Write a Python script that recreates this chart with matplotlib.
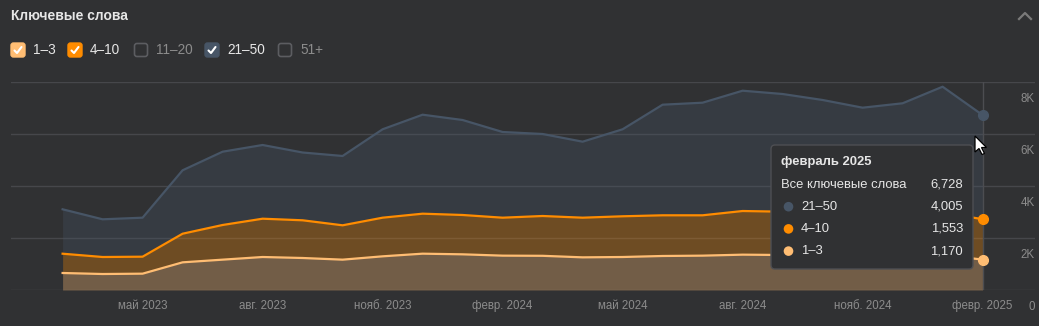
import numpy as np
import matplotlib
matplotlib.use("Agg")
import matplotlib.pyplot as plt
from matplotlib.patches import FancyBboxPatch, Polygon, Circle

plt.rcParams['font.family'] = ['Liberation Sans', 'DejaVu Sans']

# monthly keyword counts, march 2023 .. february 2025
months = ['март 2023', 'апр. 2023', 'май 2023', 'июнь 2023', 'июль 2023', 'авг. 2023',
          'сент. 2023', 'окт. 2023', 'нояб. 2023', 'дек. 2023', 'янв. 2024', 'февр. 2024',
          'март 2024', 'апр. 2024', 'май 2024', 'июнь 2024', 'июль 2024', 'авг. 2024',
          'сент. 2024', 'окт. 2024', 'нояб. 2024', 'дек. 2024', 'янв. 2025', 'февр. 2025']
pos_1_3 = [654, 615, 628, 1064, 1167, 1269, 1231, 1167, 1295, 1397, 1372, 1321,
           1315, 1256, 1269, 1308, 1321, 1359, 1346, 1340, 1330, 1335, 1345, 1170]
pos_4_10 = [742, 654, 653, 1101, 1333, 1473, 1450, 1321, 1486, 1538, 1513, 1460,
            1531, 1525, 1566, 1565, 1552, 1679, 1666, 1620, 1590, 1605, 1635, 1553]
pos_21_50 = [1708, 1450, 1500, 2439, 2819, 2835, 2607, 2666, 3400, 3807, 3653, 3296,
             3154, 2923, 3346, 4254, 4331, 4627, 4526, 4348, 4092, 4241, 4839, 4005]
tick_idx = [2, 5, 8, 11, 14, 17, 20, 23]
y_ticks = [0, 2000, 4000, 6000, 8000]
y_tick_labels = ['0', '2K', '4K', '6K', '8K']
legend_items = ['1–3', '4–10', '11–20', '21–50', '51+']
legend_on = [True, True, False, True, False]
hover_title = 'февраль 2025'

W, H = 1039, 326
bg = '#303133'
grid_c = '#46474b'
c13 = '#ffbd73'
c410 = '#ff8c00'
c2150 = '#475566'
txt = '#e6e6e6'
muted = '#8c8c8c'

fig = plt.figure(figsize=(W / 100, H / 100), dpi=100, facecolor=bg)
ax = fig.add_axes([11 / W, 1 - 290 / H, (1035 - 11) / W, (290 - 82) / H])
ax.set_facecolor(bg)

x = np.arange(len(months))
s1 = np.array(pos_1_3)
s2 = s1 + np.array(pos_4_10)
s3 = s2 + np.array(pos_21_50)

for v in y_ticks:
    ax.axhline(v, color=grid_c, lw=1, zorder=0)

ax.fill_between(x, 0, s1, color=c13, alpha=0.32, lw=0, zorder=1)
ax.fill_between(x, s1, s2, color=c410, alpha=0.3, lw=0, zorder=1)
ax.fill_between(x, s2, s3, color=c2150, alpha=0.3, lw=0, zorder=1)
ax.plot(x, s3, color=c2150, lw=1.6, zorder=3)
ax.plot(x, s2, color=c410, lw=1.6, zorder=3)
ax.plot(x, s1, color=c13, lw=1.6, zorder=3)

# hovered month
hi = len(x) - 1
ax.axvline(hi, color='#4c4d51', lw=1, zorder=2)
for s, c in [(s3, c2150), (s2, c410), (s1, c13)]:
    ax.plot(hi, s[hi], 'o', ms=7, color=c, mec=c, zorder=4)

ax.set_xlim(-1.29, 24.31)
ax.set_ylim(0, 8000)
for sp in ax.spines.values():
    sp.set_visible(False)
ax.set_yticks([])
ax.set_xticks(tick_idx)
ax.set_xticklabels([months[i] for i in tick_idx], fontsize=8.3, color=muted)
for lab in ax.get_xticklabels():
    lab.set_va('baseline')
ax.tick_params(axis='x', length=0, pad=13.8)

for v, lab in zip(y_ticks, y_tick_labels):
    ax.annotate(lab, xy=(1, v), xycoords=('axes fraction', 'data'),
                xytext=(0, -14.6), textcoords='offset points',
                ha='right', va='baseline', fontsize=8.3, color=muted)

# overlay in pixel units for header, legend and tooltip
ov = fig.add_axes([0, 0, 1, 1])
ov.set_xlim(0, W)
ov.set_ylim(H, 0)
ov.axis('off')
ov.patch.set_alpha(0)

ov.text(11, 16, 'Ключевые слова', fontsize=10, fontweight='bold', color=txt,
        ha='left', va='center')
ov.plot([1019, 1025, 1031], [19, 13, 19], color='#7a7a7a', lw=1.6)

box_x = [11, 68, 134, 205, 278]
box_fill = [c13, c410, None, c2150, None]
for bx, lab, on, fc in zip(box_x, legend_items, legend_on, box_fill):
    if on:
        ov.add_patch(FancyBboxPatch((bx, 43), 14, 14, boxstyle='round,pad=0,rounding_size=2.5',
                                    fc=fc, ec=fc, lw=1))
        ov.plot([bx + 3.5, bx + 6, bx + 10.5], [50.5, 53, 47], color='white', lw=1.5,
                solid_capstyle='round', solid_joinstyle='round')
    else:
        ov.add_patch(FancyBboxPatch((bx + 0.5, 43.5), 13, 13, boxstyle='round,pad=0,rounding_size=2.5',
                                    fc=bg, ec='#5c5d61', lw=1.2))
    ov.text(bx + 22, 50.5, lab, fontsize=9.8, color=txt if on else muted,
            ha='left', va='center')

# tooltip
ov.add_patch(FancyBboxPatch((771, 145), 202, 124, boxstyle='round,pad=0,rounding_size=4',
                            fc=bg, ec='#4e4f53', lw=1, zorder=5))
ov.text(781, 162, hover_title, fontsize=9.4, fontweight='bold', color=txt,
        ha='left', va='center', zorder=6)
rows = [('Все ключевые слова', int(s3[hi]), None),
        ('21–50', pos_21_50[hi], c2150),
        ('4–10', pos_4_10[hi], c410),
        ('1–3', pos_1_3[hi], c13)]
for k, (lab, val, c) in enumerate(rows):
    yy = 184.5 + k * 22.2
    if c is None:
        ov.text(781, yy, lab, fontsize=9.4, color=txt, ha='left', va='center', zorder=6)
    else:
        ov.add_patch(Circle((788.5, yy), 4.8, fc=c, ec='none', zorder=6))
        ov.text(801, yy, lab, fontsize=9.4, color=txt, ha='left', va='center', zorder=6)
    ov.text(963, yy, f'{val:,}', fontsize=9.4, color=txt, ha='right', va='center', zorder=6)

# mouse pointer
tip = np.array([975, 136])
arrow = np.array([(0, 0), (0, 16), (4, 12.5), (7, 18.5), (9.5, 17.5), (6.5, 11.5), (11.5, 11.5)])
ov.add_patch(Polygon(tip + arrow, closed=True, fc='white', ec='black', lw=0.9, zorder=7))

fig.savefig('out.png', dpi=100, facecolor=bg)
